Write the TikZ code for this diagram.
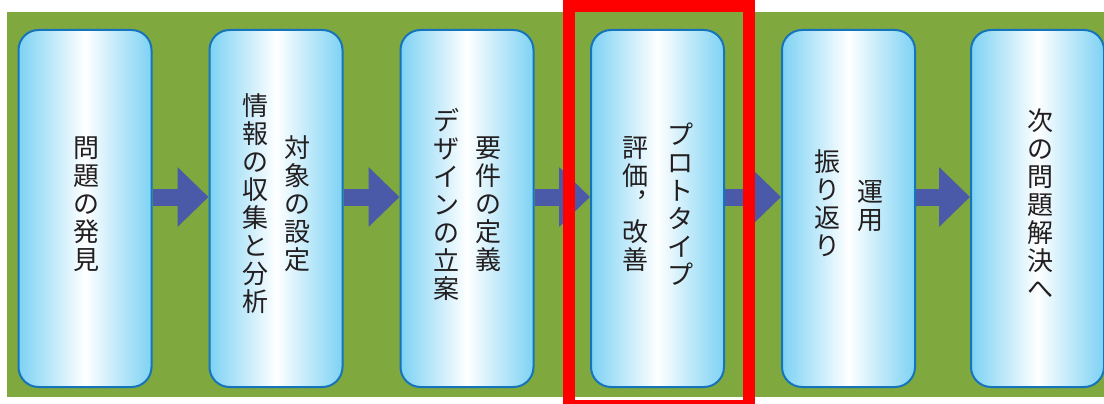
\documentclass[tikz,border=0pt]{standalone}
\usepackage{fontspec}
\newfontfamily\jp{Noto Sans CJK JP}
\usetikzlibrary{arrows.meta}
\pgfdeclarelayer{backdrop}
\pgfdeclarelayer{links}
\pgfsetlayers{backdrop,links,main}
\definecolor{bggreen}{RGB}{127,168,62}
\definecolor{arrowblue}{RGB}{74,90,168}
\definecolor{boxedge}{RGB}{22,116,186}
\definecolor{boxblue}{RGB}{125,210,244}
\definecolor{framered}{RGB}{255,0,0}
\definecolor{txt}{RGB}{35,31,32}
\tikzset{
  stepbox/.style={draw=boxedge, line width=2pt, rounded corners=20pt,
    minimum width=133pt, minimum height=357pt, inner sep=0pt,
    left color=boxblue, right color=boxblue, middle color=white},
  col/.style={font=\jp\fontsize{26pt}{28pt}\selectfont, text=txt, align=center, inner sep=0pt},
  flow/.style={draw=arrowblue, fill=arrowblue, line width=17pt,
    -{Triangle[width=58pt,length=31pt]}},
  hilite/.style={draw=framered, line width=12pt}
}
\begin{document}
\begin{tikzpicture}[x=1pt,y=-1pt]
\useasboundingbox (0,0) rectangle (1104,404);
\clip (0,0) rectangle (1104,404);
\begin{pgfonlayer}{backdrop}
\fill[bggreen] (7,12) rectangle (1110,397);
\end{pgfonlayer}
% boxes
\node[stepbox] (b1) at (85,208.5) {};
\node[stepbox] (b2) at (276,208.5) {};
\node[stepbox] (b3) at (467,208.5) {};
\node[stepbox] (b4) at (657.5,208.5) {};
\node[stepbox] (b5) at (848.5,208.5) {};
\node[stepbox] (b6) at (1037.5,208.5) {};
% arrows (behind the boxes)
\begin{pgfonlayer}{links}
\draw[flow] ([yshift=11.5pt]b1.east) -- ([yshift=11.5pt]b2.west);
\draw[flow] ([yshift=11.5pt]b2.east) -- ([yshift=11.5pt]b3.west);
\draw[flow] ([yshift=11.5pt]b3.east) -- ([yshift=11.5pt]b4.west);
\draw[flow] ([yshift=11.5pt]b4.east) -- ([yshift=11.5pt]b5.west);
\draw[flow] ([yshift=11.5pt]b5.east) -- ([yshift=11.5pt]b6.west);
\end{pgfonlayer}
% texts (vertical columns, right to left)
\node[col] (t1) at (86,204) {問\\題\\の\\発\\見};
\node[col] (t2r) at (297,204) {対\\象\\の\\設\\定};
\node[col] (t2l) at (255,204) {情\\報\\の\\収\\集\\と\\分\\析};
\node[col] (t3r) at (488,204) {要\\件\\の\\定\\義};
\node[col] (t3l) at (446,204) {デ\\ザ\\イ\\ン\\の\\立\\案};
\node[col] (t4r) at (680,204) {プ\\ロ\\ト\\タ\\イ\\プ};
\node[col] (t4l) at (635,204) {評\\価\\︐\\改\\善};
\node[col] (t5r) at (870,206) {運\\用};
\node[col] (t5l) at (827,203) {振\\り\\返\\り};
\node[col] (t6) at (1040,203.5) {次\\の\\問\\題\\解\\決\\へ};
% highlight frame
\draw[hilite] (569,6.5) rectangle (749,406);
\end{tikzpicture}
\end{document}
